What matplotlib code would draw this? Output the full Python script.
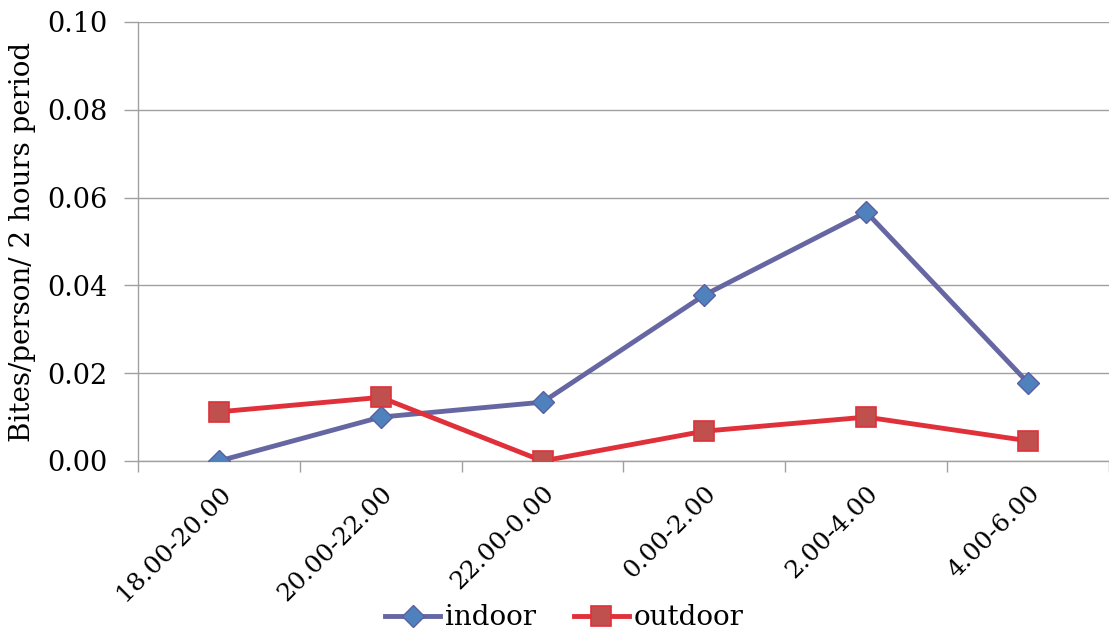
import numpy as np
import matplotlib.pyplot as plt

periods = ["18.00-20.00", "20.00-22.00", "22.00-0.00", "0.00-2.00", "2.00-4.00", "4.00-6.00"]
indoor = [0.0, 0.0100, 0.0134, 0.0378, 0.0567, 0.0178]
outdoor = [0.0112, 0.0145, 0.0, 0.0068, 0.0100, 0.0046]

plt.rcParams['font.family'] = ['DejaVu Serif']
plt.rcParams['font.size'] = 19.5

fig = plt.figure(figsize=(11.09, 6.37), dpi=100)
ax = fig.add_axes([0.1244, 0.2763, 0.8756, 0.6892])

x = np.arange(len(periods))
ax.plot(x, indoor, color='#6666A3', lw=3.5, marker='D', ms=11,
        mfc='#4F81BD', mec='#5A5FA0', mew=1, label='indoor', zorder=3)
ax.plot(x, outdoor, color='#E0303A', lw=3.5, marker='s', ms=14,
        mfc='#C0504D', mec='#E0303A', mew=1.2, label='outdoor', zorder=3)

ax.set_xlim(-0.5, len(periods) - 0.5)
ax.set_ylim(0, 0.10)
ax.set_yticks(np.arange(0, 0.101, 0.02))
ax.set_yticklabels(["%.2f" % v for v in np.arange(0, 0.101, 0.02)])
ax.yaxis.grid(True, color='#A0A0A0', lw=1)
ax.set_axisbelow(True)

ax.set_xticks(x)
ax.set_xticklabels(periods, rotation=45, ha='right', rotation_mode='anchor', fontsize=18)
ax.set_xticks(np.arange(-0.5, len(periods)), minor=True)
ax.tick_params(axis='x', which='major', length=0, pad=15)
ax.tick_params(axis='x', which='minor', length=8, color='#A0A0A0', width=1)
ax.tick_params(axis='y', length=10, color='#A0A0A0', width=1, pad=12)

for s in ['top', 'right']:
    ax.spines[s].set_visible(False)
for s in ['left', 'bottom']:
    ax.spines[s].set_color('#A0A0A0')
    ax.spines[s].set_linewidth(1)

ax.set_ylabel("Bites/person/ 2 hours period", fontsize=20, labelpad=8)

fig.legend(loc='center', bbox_to_anchor=(0.5086, 0.03), ncol=2, frameon=False,
           fontsize=20, handlelength=2.0, handletextpad=0.15, columnspacing=1.37)

fig.savefig('out.png', dpi=100)
